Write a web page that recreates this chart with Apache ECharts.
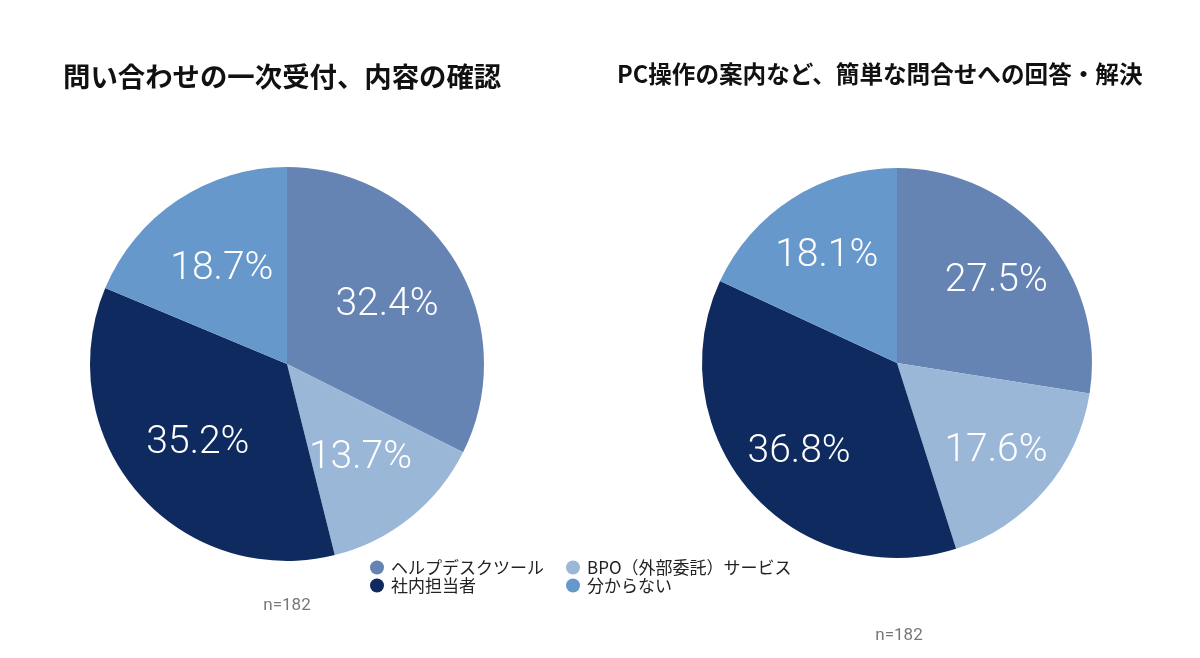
<!DOCTYPE html>
<html>
<head>
<meta charset="utf-8">
<script src="https://cdn.jsdelivr.net/npm/echarts@6/dist/echarts.min.js"></script>
<style>
html,body{margin:0;padding:0;background:#fff;}
#chart{width:1200px;height:658px;}
</style>
</head>
<body>
<div id="chart"></div>
<script>
const categories = ['ヘルプデスクツール', 'BPO（外部委託）サービス', '社内担当者', '分からない'];
const leftValues = [32.4, 13.7, 35.2, 18.7];
const rightValues = [27.5, 17.6, 36.8, 18.1];
const titles = ['問い合わせの一次受付、内容の確認', 'PC操作の案内など、簡単な問合せへの回答・解決'];
const sampleNote = 'n=182';
const colors = ['#6684b3', '#9bb7d7', '#0e2a5f', '#6798cc'];

const jp = '"Noto Sans CJK JP", "Noto Sans", sans-serif';
const numFont = 'Roboto, "Liberation Sans", sans-serif';

function toData(vals) {
  return categories.map((c, i) => ({ name: c, value: vals[i] }));
}
function pieBase(center, radius, vals) {
  return {
    type: 'pie', center: center, radius: radius, startAngle: 90, clockwise: true,
    data: toData(vals), label: { show: false }, labelLine: { show: false },
    itemStyle: { borderWidth: 0 }, emphasis: { disabled: true }, animation: false
  };
}
function pieLabels(center, radius, vals) {
  return {
    type: 'pie', center: center, radius: radius, startAngle: 90, clockwise: true,
    data: toData(vals), silent: true, animation: false, emphasis: { disabled: true },
    itemStyle: { color: 'rgba(0,0,0,0)', borderWidth: 0 },
    label: { show: true, position: 'inside', formatter: '{c}%', color: '#ffffff',
      fontSize: 39, fontWeight: 300, fontFamily: numFont },
    labelLine: { show: false }, legendHoverLink: false
  };
}

const chart = echarts.init(document.getElementById('chart'), null, { renderer: 'canvas' });
chart.setOption({
  backgroundColor: '#ffffff',
  color: colors,
  title: [
    { text: titles[0], left: 63, top: 63, padding: 0, textStyle: { fontFamily: jp, fontSize: 27.4, fontWeight: 'bold', color: '#111' } },
    { text: titles[1], left: 617, top: 62, padding: 0, textStyle: { fontFamily: jp, fontSize: 23.6, fontWeight: 'bold', color: '#111' } },
    { text: sampleNote, left: 287, top: 597, padding: 0, textAlign: 'center', textStyle: { fontFamily: numFont, fontSize: 17, fontWeight: 'normal', color: '#777' } },
    { text: sampleNote, left: 899, top: 627, padding: 0, textAlign: 'center', textStyle: { fontFamily: numFont, fontSize: 17, fontWeight: 'normal', color: '#777' } }
  ],
  legend: [
    { data: [categories[0], categories[2]], orient: 'vertical', left: 370, top: 559, itemGap: 1,
      icon: 'circle', itemWidth: 14, itemHeight: 14, itemStyle: { borderWidth: 0 },
      textStyle: { fontFamily: jp, fontSize: 17, color: '#222', padding: [0, 0, 0, 2] }, padding: 0, selectedMode: false },
    { data: [categories[1], categories[3]], orient: 'vertical', left: 566, top: 559, itemGap: 1,
      icon: 'circle', itemWidth: 14, itemHeight: 14, itemStyle: { borderWidth: 0 },
      textStyle: { fontFamily: jp, fontSize: 17, color: '#222', padding: [0, 0, 0, 2] }, padding: 0, selectedMode: false }
  ],
  series: [
    pieBase([287, 364], 197, leftValues),
    pieLabels([287, 367], [0, 229], leftValues),
    pieBase([897, 363], 195, rightValues),
    pieLabels([897, 366], [0, 255], rightValues)
  ]
});
</script>
</body>
</html>
